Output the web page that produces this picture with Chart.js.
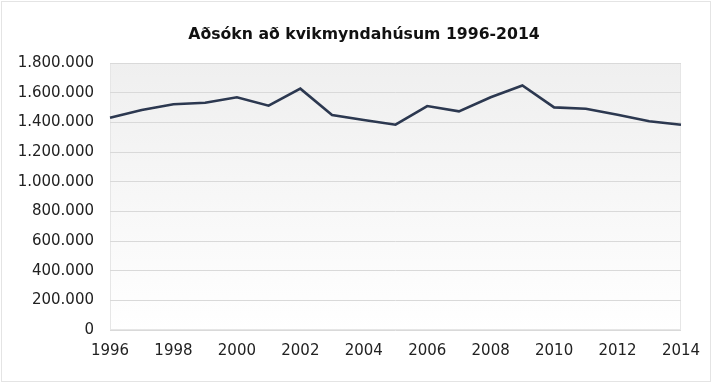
<!DOCTYPE html>
<html>
<head>
<meta charset="utf-8">
<script src="https://cdn.jsdelivr.net/npm/chart.js@4"></script>
<style>
  html, body { margin: 0; padding: 0; background: #fff; }
  #wrap { width: 713px; height: 385px; position: relative; }
</style>
</head>
<body>
<div id="wrap"><canvas id="adsokn"></canvas></div>
<script>
// Aðsókn að kvikmyndahúsum 1996-2014
const chartTitle = 'Aðsókn að kvikmyndahúsum 1996-2014';
const years = ['1996', '1997', '1998', '1999', '2000', '2001', '2002', '2003', '2004', '2005',
               '2006', '2007', '2008', '2009', '2010', '2011', '2012', '2013', '2014'];
const attendance = [1431000, 1483000, 1522000, 1532000, 1569000, 1512000, 1627000, 1449000, 1416000, 1384000,
                    1510000, 1474000, 1569000, 1648000, 1501000, 1492000, 1451000, 1407000, 1384000];
const yTicks = [0, 200000, 400000, 600000, 800000, 1000000, 1200000, 1400000, 1600000, 1800000];

function formatNumber(v) {
    return String(v).replace(/\B(?=(\d{3})+(?!\d))/g, '.');
}

// gradient behind the plot area, faint frame round the picture, and the title
const backdrop = {
    id: 'backdrop',
    beforeDraw(chart) {
        const ctx = chart.ctx;
        const a = chart.chartArea;
        ctx.save();
        ctx.strokeStyle = '#e4e4e4';
        ctx.lineWidth = 1;
        ctx.strokeRect(1.5, 1.5, 709, 380);
        const g = ctx.createLinearGradient(0, a.top, 0, a.bottom);
        g.addColorStop(0, '#efefef');
        g.addColorStop(1, '#ffffff');
        ctx.fillStyle = g;
        ctx.fillRect(a.left, a.top, a.right - a.left, a.bottom - a.top);
        ctx.strokeStyle = '#e6e6e6';
        ctx.strokeRect(a.left + 0.5, a.top + 0.5, a.right - a.left - 1, a.bottom - a.top - 1);

        ctx.fillStyle = '#111';
        ctx.font = 'bold 15.7px "DejaVu Sans", Verdana, sans-serif';
        ctx.textAlign = 'center';
        ctx.textBaseline = 'middle';
        ctx.fillText(chartTitle, 364, 35);
        ctx.restore();
    }
};

Chart.defaults.font.family = '"DejaVu Sans", Verdana, sans-serif';
Chart.defaults.color = '#222';

new Chart(document.getElementById('adsokn').getContext('2d'), {
    type: 'line',
    data: {
        labels: years,
        datasets: [{
            data: attendance,
            borderColor: '#2c3850',
            borderWidth: 2.6,
            pointRadius: 0,
            tension: 0,
            fill: false
        }]
    },
    options: {
        responsive: true,
        maintainAspectRatio: false,
        animation: false,
        layout: { padding: { left: 0, right: 32, top: 63, bottom: 0 } },
        plugins: {
            legend: { display: false },
            tooltip: { enabled: false },
            title: { display: false }
        },
        scales: {
            x: {
                offset: false,
                grid: { display: false, drawTicks: false },
                border: { display: false },
                ticks: {
                    autoSkip: false,
                    maxRotation: 0,
                    padding: 12,
                    font: { size: 15 },
                    callback: function (v, i) { return i % 2 === 0 ? years[i] : ''; }
                },
                afterFit: function (s) { s.height = 55; }
            },
            y: {
                min: 0,
                max: 1800000,
                grid: { color: '#d9d9d9', drawTicks: false },
                border: { display: false },
                afterBuildTicks: function (s) { s.ticks = yTicks.map(function (v) { return { value: v }; }); },
                ticks: {
                    padding: 16,
                    font: { size: 15 },
                    callback: function (v) { return formatNumber(v); }
                },
                afterFit: function (s) { s.width = 110; }
            }
        }
    },
    plugins: [backdrop]
});
</script>
</body>
</html>
